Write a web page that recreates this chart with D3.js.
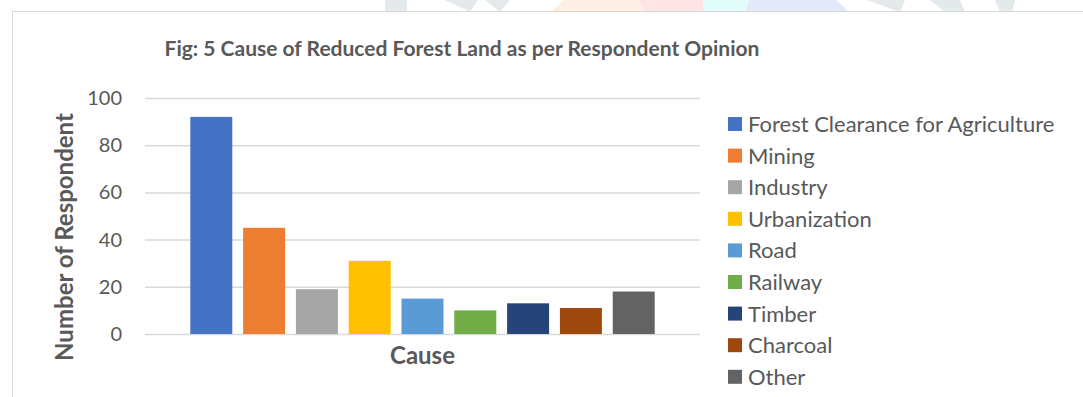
<!DOCTYPE html>
<html>
<head>
<meta charset="utf-8">
<script src="https://cdn.jsdelivr.net/npm/d3@7"></script>
<style>
  body { margin: 0; background: #fff; }
  text { font-family: Lato, "Open Sans", sans-serif; fill: #595959; }
</style>
</head>
<body>
<div id="vis1"></div>
<script>
const FRAME_WIDTH = 1083;
const FRAME_HEIGHT = 397;
const MARGINS = {left: 145, right: 383, top: 98, bottom: 63};

// data
const causes = ["Forest Clearance for Agriculture", "Mining", "Industry", "Urbanization",
                "Road", "Railway", "Timber", "Charcoal", "Other"];
const respondents = [92, 45, 19, 31, 15, 10, 13, 11, 18];
const colors = ["#4472c4", "#ed7d31", "#a5a5a5", "#ffc000", "#5b9bd5",
                "#70ad47", "#264478", "#9e480e", "#636363"];
const yTicks = [0, 20, 40, 60, 80, 100];

const VIS_WIDTH = FRAME_WIDTH - MARGINS.left - MARGINS.right;
const VIS_HEIGHT = 334 - MARGINS.top;

const FRAME = d3.select("#vis1")
  .append("svg")
    .attr("width", FRAME_WIDTH)
    .attr("height", FRAME_HEIGHT);

// faint watermark peeking above the chart box
const wm = FRAME.append("g").attr("opacity", 0.5);
const arc = d3.arc().innerRadius(0).outerRadius(210);
const wedgeCols = ["#fde0c8", "#fcc8c8", "#c4f7f7", "#c8d0f2"];
const wedgeAngles = [-0.78, -0.36, 0.02, 0.3, 0.78];
wedgeCols.forEach((c, i) => {
  wm.append("path")
    .attr("transform", "translate(700,160)")
    .attr("d", arc({startAngle: wedgeAngles[i], endAngle: wedgeAngles[i + 1]}))
    .attr("fill", c);
});
wm.append("rect").attr("x", 385).attr("y", 0).attr("width", 22).attr("height", 12).attr("fill", "#c9d3d8");
wm.append("path").attr("d", "M445,0 L470,12 L478,0 Z M485,0 L510,0 L500,12 Z").attr("fill", "#c9d3d8");
wm.append("path").attr("d", "M867,0 L900,12 L905,0 Z M930,0 L960,0 L965,12 L945,12 Z M995,0 L1015,0 L1012,12 L1000,12 Z").attr("fill", "#c9d3d8");

// chart border
FRAME.append("rect")
  .attr("x", 12.5).attr("y", 11.5)
  .attr("width", FRAME_WIDTH).attr("height", FRAME_HEIGHT)
  .attr("fill", "#fff")
  .attr("stroke", "#d9d9d9")
  .attr("stroke-width", 1);

const X_SCALE = d3.scaleBand()
  .domain(causes)
  .range([0, VIS_WIDTH])
  .paddingInner(0.205)
  .paddingOuter(0.858);

const Y_SCALE = d3.scaleLinear()
  .domain([0, 100])
  .range([VIS_HEIGHT, 0]);

const plot = FRAME.append("g")
  .attr("transform", "translate(" + MARGINS.left + "," + MARGINS.top + ")");

// gridlines + tick labels
const yAxis = plot.append("g")
  .call(d3.axisLeft(Y_SCALE).tickValues(yTicks).tickSize(-VIS_WIDTH).tickPadding(23));
yAxis.select(".domain").remove();
yAxis.selectAll(".tick line").attr("stroke", "#d9d9d9").attr("stroke-width", 1.5);
yAxis.selectAll(".tick text")
  .attr("font-family", "Lato, 'Open Sans', sans-serif")
  .attr("font-size", "20px")
  .attr("fill", "#595959");

plot.selectAll(".bar")
  .data(respondents)
  .enter()
  .append("rect")
    .attr("class", "bar")
    .attr("x", (d, i) => X_SCALE(causes[i]))
    .attr("y", (d) => Y_SCALE(d))
    .attr("width", X_SCALE.bandwidth())
    .attr("height", (d) => VIS_HEIGHT - Y_SCALE(d))
    .attr("fill", (d, i) => colors[i]);

// titles
FRAME.append("text")
  .attr("x", 462).attr("y", 56)
  .attr("text-anchor", "middle")
  .attr("font-size", "21px")
  .attr("font-weight", "bold")
  .text("Fig: 5 Cause of Reduced Forest Land as per Respondent Opinion");

FRAME.append("text")
  .attr("x", MARGINS.left + VIS_WIDTH / 2).attr("y", 364)
  .attr("text-anchor", "middle")
  .attr("font-size", "24px")
  .attr("font-weight", "bold")
  .text("Cause");

FRAME.append("text")
  .attr("transform", "translate(73,237) rotate(-90)")
  .attr("text-anchor", "middle")
  .attr("font-size", "24px")
  .attr("font-weight", "bold")
  .text("Number of Respondent");

// legend
const legend = FRAME.append("g").attr("transform", "translate(728,124)");
const rows = legend.selectAll(".row")
  .data(causes)
  .enter()
  .append("g")
    .attr("transform", (d, i) => "translate(0," + (i * 31.6) + ")");
rows.append("rect")
  .attr("x", 0).attr("y", -7)
  .attr("width", 14).attr("height", 14)
  .attr("fill", (d, i) => colors[i]);
rows.append("text")
  .attr("x", 20).attr("y", 8)
  .attr("font-size", "22px")
  .text((d) => d);
</script>
</body>
</html>
